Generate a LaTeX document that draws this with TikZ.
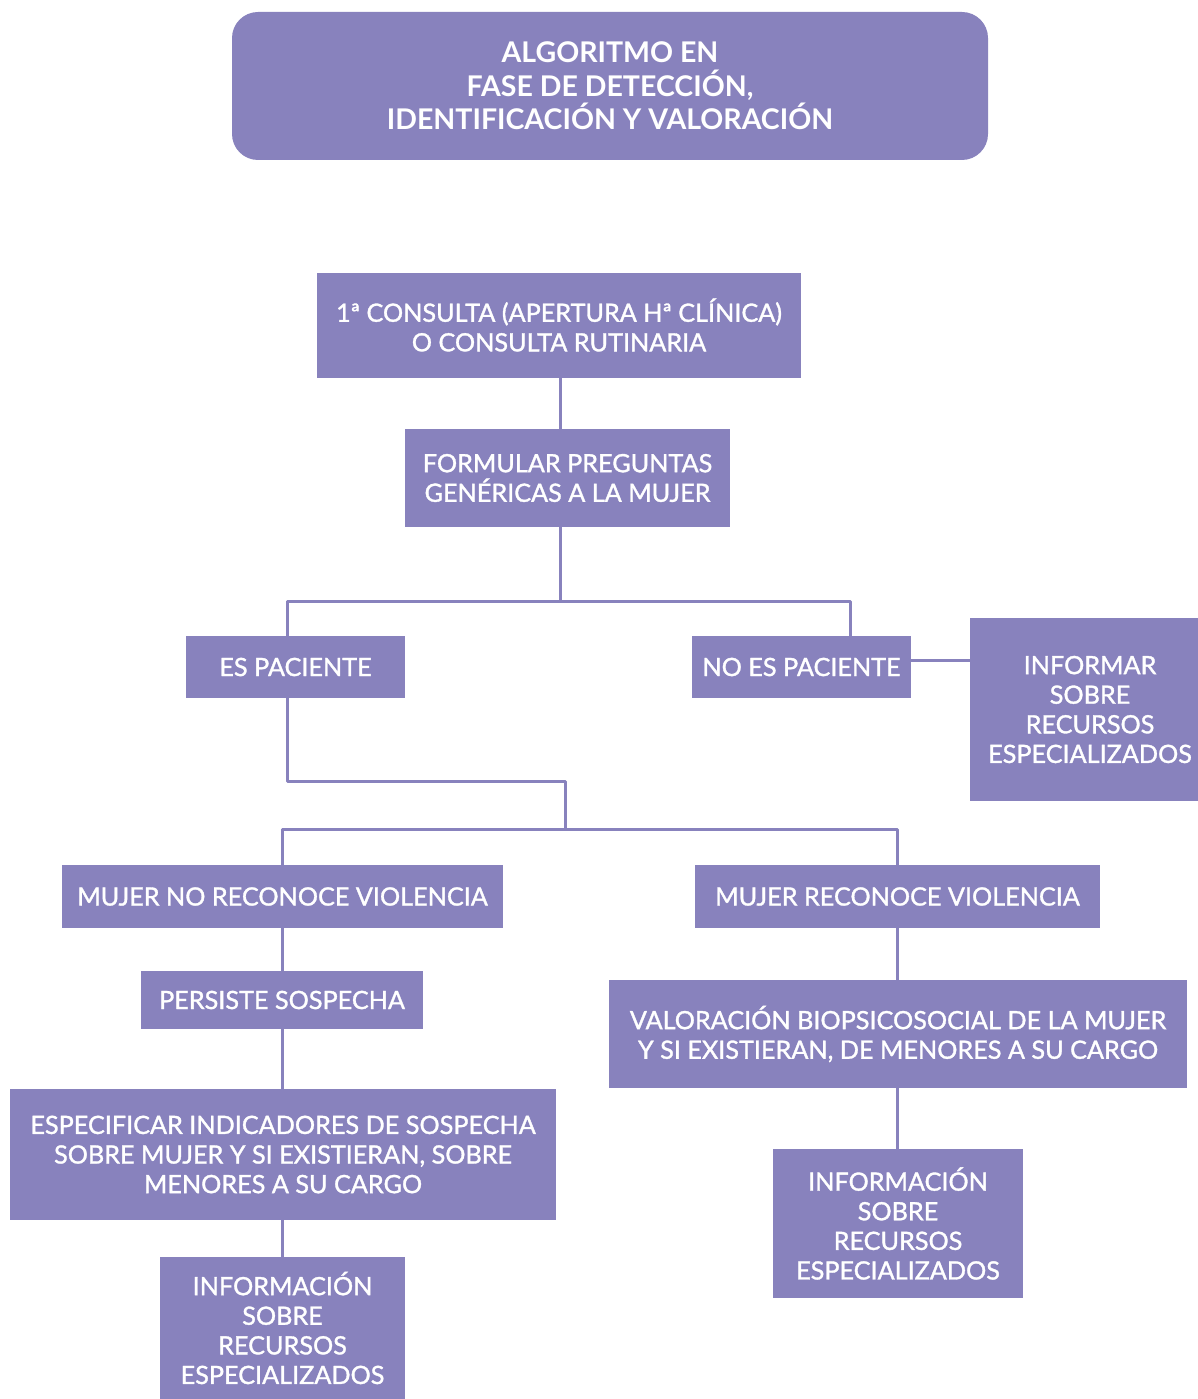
\documentclass[tikz,border=0pt]{standalone}
\usepackage{fontspec}
\setmainfont{Lato}
\newfontfamily\medfont{Lato}[FakeBold=1.3]
\definecolor{lila}{RGB}{136,130,189}
\begin{document}
\begin{tikzpicture}[x=1pt,y=-1pt,
  box/.style={fill=lila, text=white, align=center, inner sep=0pt,
    font=\medfont\fontsize{25.2}{29.6}\selectfont},
  titlebox/.style={fill=lila, text=white, align=center, inner sep=0pt,
    rounded corners=26pt, font=\bfseries\fontsize{28.5}{33.5}\selectfont},
  conn/.style={draw=lila, line width=3pt, line join=round}]
\useasboundingbox (0,0) rectangle (1198,1399);

\node[titlebox, minimum width=756, minimum height=148] (title) at (610,86)
  {ALGORITMO EN\\FASE DE DETECCIÓN,\\IDENTIFICACIÓN Y VALORACIÓN};

\node[box, minimum width=484, minimum height=105] (b1) at (559,325)
  {1ª CONSULTA (APERTURA Hª CLÍNICA)\\O CONSULTA RUTINARIA};
\node[box, minimum width=325, minimum height=98] (b2) at (567.5,478)
  {FORMULAR PREGUNTAS\\GENÉRICAS A LA MUJER};
\node[box, minimum width=219, minimum height=62] (es) at (295.5,667) {ES PACIENTE};
\node[box, minimum width=219, minimum height=62] (no) at (801.5,667) {NO ES PACIENTE};
\node[box, minimum width=240, minimum height=183] (inf) at (1090,709.5)
  {INFORMAR\\SOBRE\\RECURSOS\\ESPECIALIZADOS};
\node[box, minimum width=441, minimum height=63] (mnr) at (282.5,896.5) {MUJER NO RECONOCE VIOLENCIA};
\node[box, minimum width=405, minimum height=63] (mr) at (897.5,896.5) {MUJER RECONOCE VIOLENCIA};
\node[box, minimum width=282, minimum height=58] (ps) at (282,1000) {PERSISTE SOSPECHA};
\node[box, minimum width=546, minimum height=131] (esp) at (283,1154.5)
  {ESPECIFICAR INDICADORES DE SOSPECHA\\SOBRE MUJER Y SI EXISTIERAN, SOBRE\\MENORES A SU CARGO};
\node[box, minimum width=245, minimum height=142] (inf1) at (282.5,1328)
  {INFORMACIÓN\\SOBRE\\RECURSOS\\ESPECIALIZADOS};
\node[box, minimum width=578, minimum height=108] (val) at (898,1034)
  {VALORACIÓN BIOPSICOSOCIAL DE LA MUJER\\Y SI EXISTIERAN, DE MENORES A SU CARGO};
\node[box, minimum width=250, minimum height=149] (inf2) at (898,1223.5)
  {INFORMACIÓN\\SOBRE\\RECURSOS\\ESPECIALIZADOS};

\coordinate (j1) at (560,601);
\coordinate (cES) at (287,601);
\coordinate (cNO) at (850,601);
\coordinate (hN) at (940,660);
\coordinate (k1) at (287,781);
\coordinate (k2) at (565,781);
\coordinate (k3) at (565,829);
\coordinate (kL) at (282,829);
\coordinate (kR) at (897,829);

\draw[conn] (b1.south -| j1) -- (b2.north -| j1);
\draw[conn] (b2.south -| j1) -- (j1);
\draw[conn] (es.north -| cES) -- (cES) -- (cNO) -- (no.north -| cNO);
\draw[conn] (no.east |- hN) -- (inf.west |- hN);
\draw[conn] (es.south -| k1) -- (k1) -- (k2) -- (k3);
\draw[conn] (mnr.north -| kL) -- (kL) -- (kR) -- (mr.north -| kR);
\draw[conn] (mnr.south -| kL) -- (ps.north -| kL);
\draw[conn] (ps.south -| kL) -- (esp.north -| kL);
\draw[conn] (esp.south -| kL) -- (inf1.north -| kL);
\draw[conn] (mr.south -| kR) -- (val.north -| kR);
\draw[conn] (val.south -| kR) -- (inf2.north -| kR);
\end{tikzpicture}
\end{document}
